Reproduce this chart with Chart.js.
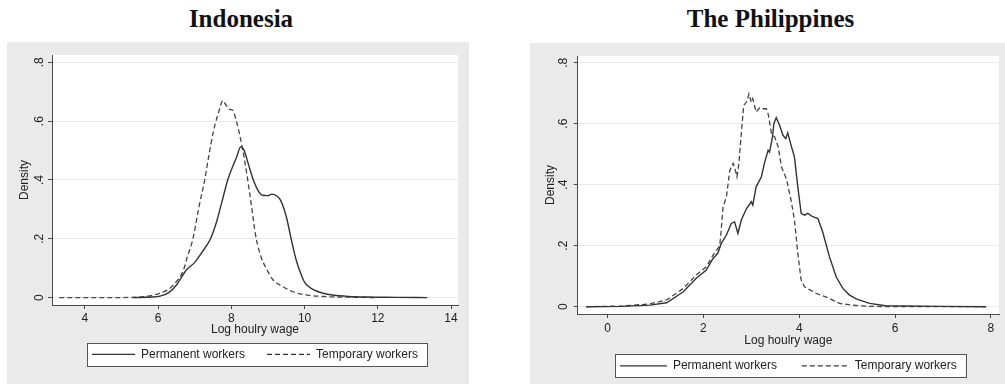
<!DOCTYPE html>
<html>
<head>
<meta charset="utf-8">
<script src="https://cdn.jsdelivr.net/npm/chart.js@4"></script>
<style>
  html, body { margin: 0; padding: 0; background: #fff; width: 1005px; height: 384px; overflow: hidden; }
  .title { position: absolute; top: 6px; font: bold 25px "Liberation Serif", "Times New Roman", serif; line-height: 25px; color: #111; text-align: center; }
  .panel { position: absolute; background: #eaeaea; }
</style>
</head>
<body>
<div class="title" style="left:0;width:482px">Indonesia</div>
<div class="title" style="left:530px;width:481px">The Philippines</div>
<div class="panel" style="left:7px;top:42px;width:462px;height:358px"><canvas id="idn"></canvas></div>
<div class="panel" style="left:530px;top:43px;width:475px;height:357px"><canvas id="phl"></canvas></div>

<script>
// --- data (kernel density estimates) ---
const idnPermX = [5.3, 5.8, 6.05, 6.3, 6.5, 6.77, 7.0, 7.2, 7.43, 7.6, 7.75, 7.9, 8.05, 8.15, 8.25, 8.35, 8.45, 8.6, 8.75, 8.85, 9.0, 9.1, 9.25, 9.35, 9.5, 9.65, 9.77, 9.9, 10.0, 10.2, 10.5, 10.8, 11.2, 11.7, 12.5, 13.35];
const idnPermY = [0, 0.002, 0.005, 0.018, 0.043, 0.094, 0.12, 0.155, 0.2, 0.26, 0.33, 0.4, 0.45, 0.48, 0.512, 0.5, 0.46, 0.4, 0.36, 0.348, 0.347, 0.352, 0.345, 0.33, 0.275, 0.19, 0.128, 0.08, 0.052, 0.03, 0.015, 0.008, 0.004, 0.002, 0.001, 0];
const idnTempX = [3.3, 4.5, 5.3, 5.7, 6.0, 6.3, 6.5, 6.68, 6.8, 6.95, 7.1, 7.27, 7.38, 7.5, 7.64, 7.77, 7.85, 7.95, 8.03, 8.14, 8.25, 8.36, 8.5, 8.68, 8.82, 8.95, 9.14, 9.4, 9.68, 10.0, 10.5, 11.0, 11.5, 12.0];
const idnTempY = [0, 0, 0.001, 0.005, 0.013, 0.03, 0.055, 0.09, 0.14, 0.2, 0.3, 0.4, 0.48, 0.56, 0.626, 0.67, 0.655, 0.64, 0.638, 0.598, 0.54, 0.468, 0.355, 0.2, 0.135, 0.1, 0.06, 0.038, 0.02, 0.01, 0.004, 0.002, 0.001, 0];

const phlPermX = [-0.45, 0.3, 0.88, 1.23, 1.58, 1.85, 2.06, 2.2, 2.3, 2.37, 2.48, 2.58, 2.65, 2.72, 2.79, 2.9, 3.0, 3.03, 3.1, 3.21, 3.28, 3.35, 3.38, 3.44, 3.47, 3.52, 3.59, 3.66, 3.72, 3.76, 3.83, 3.9, 3.97, 4.04, 4.11, 4.18, 4.28, 4.39, 4.49, 4.63, 4.77, 4.91, 5.05, 5.2, 5.47, 5.8, 6.2, 7.0, 7.9];
const phlPermY = [0, 0.001, 0.005, 0.013, 0.049, 0.093, 0.12, 0.158, 0.175, 0.207, 0.235, 0.273, 0.278, 0.24, 0.284, 0.322, 0.344, 0.333, 0.393, 0.426, 0.475, 0.513, 0.507, 0.556, 0.6, 0.62, 0.595, 0.562, 0.551, 0.57, 0.529, 0.491, 0.393, 0.306, 0.3, 0.306, 0.295, 0.289, 0.245, 0.164, 0.098, 0.06, 0.038, 0.025, 0.011, 0.003, 0.002, 0.001, 0];
const phlTempX = [-0.45, 0.3, 0.88, 1.23, 1.58, 1.85, 2.06, 2.2, 2.34, 2.37, 2.41, 2.48, 2.55, 2.62, 2.65, 2.7, 2.74, 2.79, 2.84, 2.9, 2.95, 3.0, 3.03, 3.1, 3.17, 3.24, 3.31, 3.35, 3.42, 3.49, 3.56, 3.63, 3.73, 3.83, 3.9, 3.97, 4.04, 4.11, 4.35, 4.63, 4.84, 5.1, 5.47, 6.0, 7.0, 7.9];
const phlTempY = [0, 0.002, 0.009, 0.022, 0.06, 0.104, 0.131, 0.169, 0.2, 0.25, 0.327, 0.36, 0.447, 0.47, 0.458, 0.426, 0.47, 0.567, 0.66, 0.671, 0.698, 0.67, 0.682, 0.638, 0.652, 0.649, 0.649, 0.633, 0.567, 0.556, 0.524, 0.458, 0.42, 0.349, 0.284, 0.175, 0.087, 0.065, 0.044, 0.027, 0.011, 0.005, 0.001, 0, 0, 0];

const seriesNames = ["Permanent workers", "Temporary workers"];
const idnXTicks = [4, 6, 8, 10, 12, 14];
const phlXTicks = [0, 2, 4, 6, 8];
const yTickVals = [0, 0.2, 0.4, 0.6, 0.8];
const yTickLabels = ["0", ".2", ".4", ".6", ".8"];

const FONT = '"Liberation Sans", Arial, sans-serif';
const LINE = "#333";
const AXIS = "#4a4a4a";
Chart.defaults.font.family = FONT;
Chart.defaults.font.size = 12;
Chart.defaults.color = "#222";

function toPoints(xs, ys) { return xs.map((x, i) => ({ x: x, y: ys[i] })); }

// white plot region + framed legend with white fill
const panelDeco = {
  id: "panelDeco",
  beforeDraw(chart) {
    const ctx = chart.ctx, a = chart.chartArea;
    ctx.save();
    ctx.fillStyle = "#fff";
    ctx.fillRect(a.left, a.top, a.right - a.left, a.bottom - a.top);
    const hb = chart.legend && chart.legend.legendHitBoxes;
    if (hb && hb.length) {
      const l = Math.min(...hb.map(b => b.left)) - 5;
      const r = Math.max(...hb.map(b => b.left + b.width)) + 9;
      const t = hb[0].top - 5.5, btm = hb[0].top + hb[0].height + 5.5;
      ctx.fillRect(l, t, r - l, btm - t);
      ctx.strokeStyle = "#555";
      ctx.lineWidth = 1;
      ctx.strokeRect(Math.round(l) + 0.5, Math.round(t) + 0.5, Math.round(r - l), Math.round(btm - t));
    }
    ctx.restore();
  }
};

function buildChart(id, o) {
  return new Chart(document.getElementById(id), {
    type: "line",
    data: {
      datasets: [
        { label: seriesNames[0], data: toPoints(o.permX, o.permY), borderColor: LINE, borderWidth: 1.4,
          pointRadius: 0, fill: false, tension: o.tension, cubicInterpolationMode: o.mode },
        { label: seriesNames[1], data: toPoints(o.tempX, o.tempY), borderColor: "#444", borderWidth: 1.3,
          borderDash: [5, 3], pointRadius: 0, fill: false, tension: o.tension, cubicInterpolationMode: o.mode }
      ]
    },
    options: {
      responsive: true,
      maintainAspectRatio: false,
      animation: false,
      layout: { padding: o.pad },
      scales: {
        x: {
          type: "linear", min: o.xMin, max: o.xMax,
          afterBuildTicks: s => { s.ticks = o.xTicks.map(v => ({ value: v })); },
          grid: { drawOnChartArea: false, tickLength: 4, tickColor: AXIS },
          border: { color: AXIS },
          ticks: { padding: o.xTickPad, maxRotation: 0, font: { size: 12, lineHeight: 1 }, callback: v => String(v) },
          title: { display: true, text: "Log houlry wage", font: { size: 12, lineHeight: 1 },
                   padding: { top: o.xTitleTop, bottom: o.xTitleBottom } }
        },
        y: {
          min: o.yMin, max: o.yMax,
          afterBuildTicks: s => { s.ticks = yTickVals.map(v => ({ value: v })); },
          grid: { color: "#e9e9e9", tickLength: 4, tickColor: AXIS },
          border: { color: AXIS },
          ticks: { minRotation: 90, maxRotation: 90, crossAlign: "center", padding: o.yTickPad,
                   font: { size: 12, lineHeight: 1 },
                   callback: v => yTickLabels[yTickVals.indexOf(v)] },
          title: { display: true, text: "Density", font: { size: 12, lineHeight: 1 },
                   padding: { top: 0, bottom: o.yTitleBottom } }
        }
      },
      plugins: {
        tooltip: { enabled: false },
        legend: {
          position: "bottom",
          fullSize: false,
          labels: {
            usePointStyle: true,
            pointStyleWidth: o.sampleW,
            padding: o.legendPad,
            font: { size: 12 },
            color: "#222",
            generateLabels: chart => Chart.defaults.plugins.legend.labels.generateLabels(chart).map(item => ({
              ...item,
              pointStyle: "line",
              lineDash: chart.data.datasets[item.datasetIndex].borderDash || [],
              lineWidth: 1.2,
              strokeStyle: LINE
            }))
          }
        }
      }
    },
    plugins: [panelDeco]
  });
}

buildChart("idn", {
  permX: idnPermX, permY: idnPermY, tempX: idnTempX, tempY: idnTempY,
  xMin: 3.1, xMax: 14.19, xTicks: idnXTicks, yMin: -0.025, yMax: 0.825,
  tension: 0.4, mode: "monotone",
  pad: { top: 13, left: 12, right: 11, bottom: 29.6 },
  xTickPad: 4, xTitleTop: -5, xTitleBottom: -9.6, yTickPad: 3.5, yTitleBottom: -2,
  sampleW: 43, legendPad: 22
});

buildChart("phl", {
  permX: phlPermX, permY: phlPermY, tempX: phlTempX, tempY: phlTempY,
  xMin: -0.625, xMax: 8.17, xTicks: phlXTicks, yMin: -0.024, yMax: 0.822,
  tension: 0, mode: "default",
  pad: { top: 13, left: 14.5, right: 6, bottom: 18.2 },
  xTickPad: 5, xTitleTop: -5.3, xTitleBottom: -11.7, yTickPad: 5.4, yTitleBottom: -5.6,
  sampleW: 47, legendPad: 24.8
});
</script>
</body>
</html>
